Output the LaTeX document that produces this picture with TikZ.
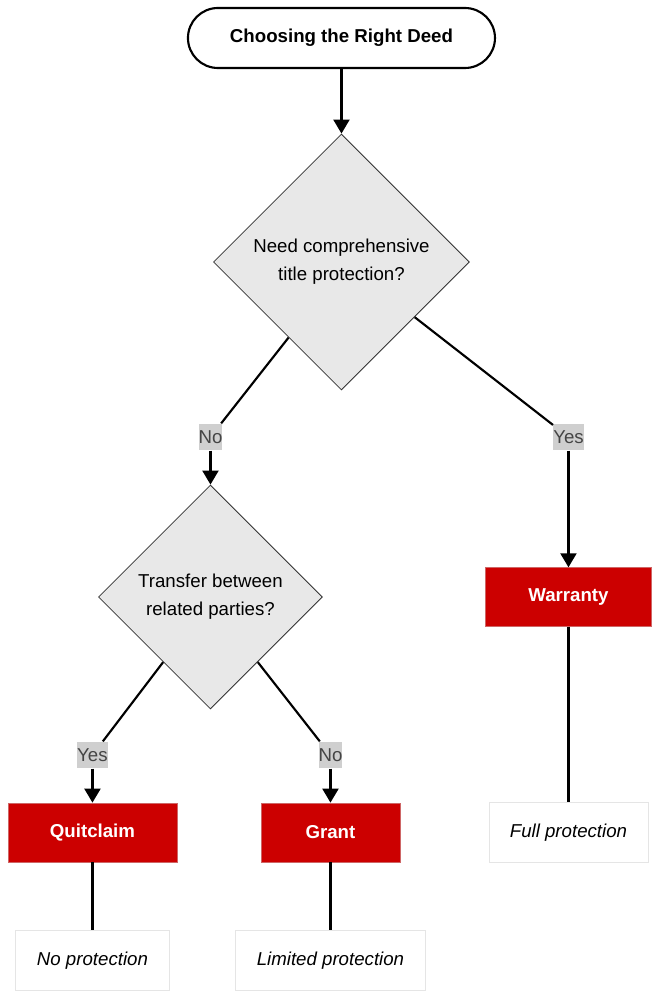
\documentclass[tikz,border=0pt]{standalone}
\usepackage{fontspec}
\setmainfont{Liberation Sans}
\usetikzlibrary{shapes.geometric, arrows.meta}
\definecolor{deedred}{HTML}{CC0000}
\definecolor{diafill}{HTML}{E8E8E8}
\definecolor{lblfill}{HTML}{CFCFCF}
\definecolor{lbltext}{HTML}{444444}
\tikzstyle{startstop} = [rectangle, rounded corners=22.5pt, minimum width=230.25pt, minimum height=45pt, text centered, draw=black, line width=1.6pt, fill=white, font=\fontsize{14}{17}\selectfont\bfseries]
\tikzstyle{decision} = [diamond, aspect=1, inner sep=0pt, align=center, draw=black!80, line width=0.6pt, fill=diafill, font=\fontsize{14}{21}\selectfont]
\tikzstyle{deed} = [rectangle, minimum height=44.25pt, text centered, fill=deedred, draw=deedred!85!black!60, line width=0.3pt, text=white, font=\fontsize{14}{17}\selectfont\bfseries]
\tikzstyle{outcome} = [rectangle, minimum height=45pt, text centered, fill=white, draw=black!10, line width=0.6pt, font=\fontsize{14}{17}\selectfont\itshape]
\tikzstyle{answer} = [rectangle, inner sep=0pt, minimum height=20pt, fill=lblfill, text=lbltext, font=\fontsize{14}{17}\selectfont]
\tikzstyle{link} = [line width=1.6pt]
\tikzstyle{arrow} = [line width=1.6pt, -{Triangle[width=12pt, length=10.5pt]}]
\begin{document}
\begin{tikzpicture}[node distance=120pt]
           \useasboundingbox (0,0) rectangle (499.5pt,-745.5pt);
           \node (start) [startstop] at (256.1pt,-28.5pt) {Choosing the Right Deed};
           \node (need) [decision, minimum width=192pt, minimum height=192pt, below of=start, yshift=-48pt] {Need comprehensive\\title protection?};
           \node (noA) [answer, below of=need, xshift=-98.25pt, yshift=-11.25pt] {No};
           \node (yesA) [answer, below of=need, xshift=170.25pt, yshift=-11.25pt] {Yes};
           \node (related) [decision, minimum width=168pt, minimum height=168pt, below of=noA] {Transfer between\\related parties?};
           \node (warranty) [deed, minimum width=124.5pt, below of=yesA] {Warranty};
           \node (yesB) [answer, below of=related, xshift=-88.5pt, yshift=1.5pt] {Yes};
           \node (noB) [answer, below of=related, xshift=90pt, yshift=1.5pt] {No};
           \node (quitclaim) [deed, minimum width=126.75pt, below of=yesB, node distance=58pt] {Quitclaim};
           \node (grant) [deed, minimum width=104.25pt, below of=noB, node distance=58pt] {Grant};
           \node (full) [outcome, minimum width=119.25pt, below of=warranty, node distance=176.5pt] {Full protection};
           \node (none) [outcome, minimum width=115.5pt, below of=quitclaim, node distance=96pt] {No protection};
           \node (limited) [outcome, minimum width=142.5pt, below of=grant, node distance=96pt] {Limited protection};

           \draw [arrow] (start) -- (need);
           \draw [link] (need.-125) -- (noA);
           \draw [arrow] (noA) -- (related);
           \draw [link] (need.-37) -- (yesA);
           \draw [arrow] (yesA) -- (warranty);
           \draw [link] (related.-126) -- (yesB);
           \draw [arrow] (yesB) -- (quitclaim);
           \draw [link] (related.-54) -- (noB);
           \draw [arrow] (noB) -- (grant);
           \draw [link] (warranty) -- (full);
           \draw [link] (quitclaim) -- (none);
           \draw [link] (grant) -- (limited);
        \end{tikzpicture}
\end{document}
